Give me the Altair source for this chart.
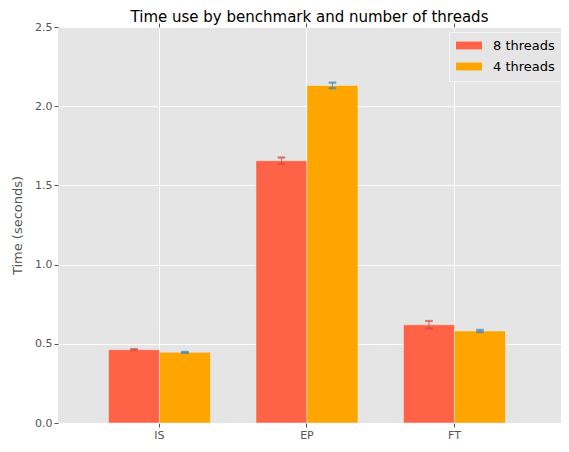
import altair as alt
import pandas as pd

benchmarks = ["IS", "EP", "FT"]
series = ["8 threads", "4 threads"]
t8 = [0.463, 1.656, 0.620]
err8 = [0.004, 0.020, 0.024]
t4 = [0.446, 2.131, 0.581]
err4 = [0.003, 0.018, 0.007]
bar_colors = ["#FF6347", "#FFA500"]
err_colors = ["#E24A33", "#348ABD"]
y_ticks = [0.0, 0.5, 1.0, 1.5, 2.0, 2.5]

rows = []
for i, b in enumerate(benchmarks):
    rows.append({"bench": b, "threads": series[0], "t": t8[i], "lo": t8[i] - err8[i], "hi": t8[i] + err8[i]})
    rows.append({"bench": b, "threads": series[1], "t": t4[i], "lo": t4[i] - err4[i], "hi": t4[i] + err4[i]})
df = pd.DataFrame(rows)

FONT = "DejaVu Sans"
GRAY = "#555555"
W, H = 503, 396

xscale = alt.Scale(paddingInner=0.3085, paddingOuter=0.3593, align=0.476)
xoff = alt.XOffset("threads:N", sort=series, scale=alt.Scale(paddingInner=0, paddingOuter=0))
yscale = alt.Scale(domain=[0, 2.5], nice=False)

x_bottom = alt.X("bench:N", sort=benchmarks, scale=xscale,
                 axis=alt.Axis(title=None, labelAngle=0, grid=True, gridColor="white",
                               gridWidth=1, domain=False, tickColor=GRAY, tickSize=4,
                               labelColor=GRAY, labelFontSize=11, labelFont=FONT,
                               labelPadding=2, orient="bottom"))
x_plain = alt.X("bench:N", sort=benchmarks, scale=xscale, axis=None)
y_left = alt.Y("t:Q", scale=yscale,
               axis=alt.Axis(title="Time (seconds)", values=y_ticks, format=".1f",
                             grid=True, gridColor="white", gridWidth=1, domain=False,
                             tickColor=GRAY, tickSize=4, labelColor=GRAY, labelFontSize=11,
                             labelFont=FONT, labelPadding=2, titleColor=GRAY,
                             titleFontSize=13, titleFont=FONT, titleFontWeight="normal",
                             titlePadding=10))

bars = alt.Chart(df).mark_bar(stroke="#EEEEEE", strokeWidth=0.5).encode(
    x=x_bottom,
    xOffset=xoff,
    y=y_left,
    color=alt.Color("threads:N", sort=series,
                    scale=alt.Scale(domain=series, range=bar_colors),
                    legend=alt.Legend(title=None, orient="none", legendX=W - 112, legendY=5,
                                      direction="vertical",
                                      symbolType="M-2,-0.6L2,-0.6L2,0.6L-2,0.6Z",
                                      symbolSize=169, symbolStrokeWidth=0,
                                      symbolOffset=6.5,
                                      labelFontSize=13, labelFont=FONT, labelColor="black",
                                      labelOffset=17.5, rowPadding=7, padding=7,
                                      fillColor="#E5E5E5", strokeColor="#F4F4F4",
                                      labelLimit=200)),
)

stroke_enc = alt.Stroke("threads:N", scale=alt.Scale(domain=series, range=err_colors), legend=None)

rules = alt.Chart(df).mark_rule(strokeWidth=1.2, opacity=0.7).encode(
    x=x_plain,
    xOffset=xoff,
    y=alt.Y("lo:Q", scale=yscale),
    y2="hi:Q",
    stroke=stroke_enc,
)
cap_hi = alt.Chart(df).mark_tick(size=7, thickness=1.2, opacity=0.7).encode(
    x=x_plain,
    xOffset=xoff,
    y=alt.Y("hi:Q", scale=yscale),
    stroke=stroke_enc,
)
cap_lo = alt.Chart(df).mark_tick(size=7, thickness=1.2, opacity=0.7).encode(
    x=x_plain,
    xOffset=xoff,
    y=alt.Y("lo:Q", scale=yscale),
    stroke=stroke_enc,
)

top_ticks = alt.Chart(df).mark_point(opacity=0).encode(
    x=alt.X("bench:N", sort=benchmarks, scale=xscale,
            axis=alt.Axis(orient="top", title=None, labels=False, grid=False, domain=False,
                          ticks=True, tickColor=GRAY, tickSize=4)),
)

chart = alt.layer(bars, rules, cap_hi, cap_lo, top_ticks).resolve_axis(
    x="independent"
).properties(
    width=W,
    height=H,
    autosize=alt.AutoSizeParams(type="none"),
    padding={"left": 50, "top": 19, "right": 0, "bottom": 19},
    background="white",
    title=alt.Title("Time use by benchmark and number of threads", fontSize=15,
                    fontWeight="normal", font=FONT, color="black", anchor="middle",
                    offset=-4),
).configure_view(fill="#E5E5E5", stroke=None)

chart.save("out.html", embed_options={"renderer": "svg", "actions": False})
